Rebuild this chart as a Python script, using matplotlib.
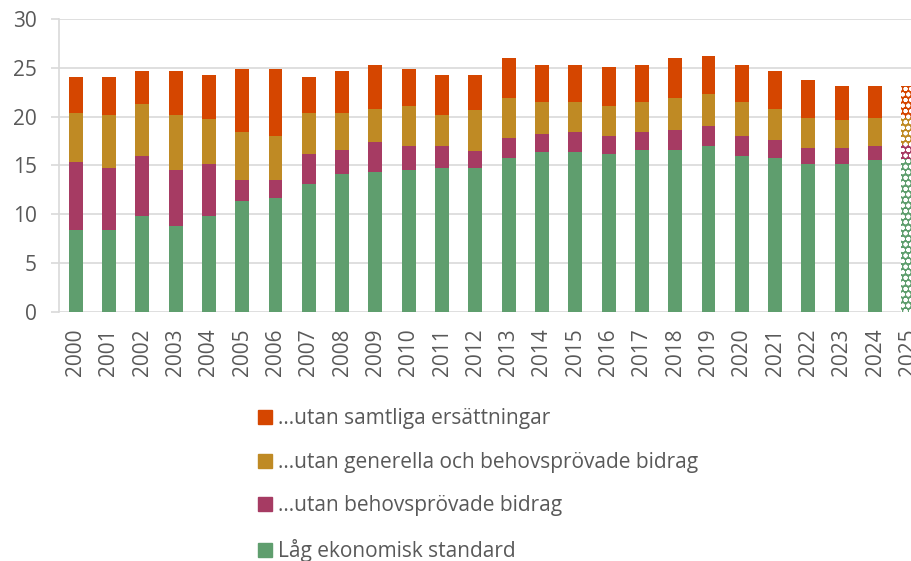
import numpy as np
import matplotlib
matplotlib.use("Agg")
import matplotlib.pyplot as plt
from matplotlib.patches import Patch

plt.rcParams['font.family'] = ['Open Sans', 'DejaVu Sans']
plt.rcParams['hatch.linewidth'] = 1.3

years = [str(y) for y in range(2000, 2026)]

# andel (%) med låg ekonomisk standard, nivåer som staplas på varandra
lag_ek_std = [8.4, 8.4, 9.8, 8.8, 9.8, 11.3, 11.7, 13.1, 14.1, 14.3, 14.5, 14.7, 14.7,
              15.8, 16.4, 16.4, 16.2, 16.6, 16.6, 17.0, 16.0, 15.8, 15.1, 15.1, 15.5, 15.7]
utan_behov = [15.3, 14.7, 16.0, 14.5, 15.1, 13.5, 13.5, 16.2, 16.6, 17.4, 17.0, 17.0, 16.5,
              17.8, 18.2, 18.4, 18.0, 18.4, 18.6, 19.0, 18.0, 17.6, 16.8, 16.8, 17.0, 17.1]
utan_gen_behov = [20.4, 20.2, 21.3, 20.2, 19.8, 18.4, 18.0, 20.4, 20.4, 20.8, 21.1, 20.2, 20.7,
                  21.9, 21.5, 21.5, 21.1, 21.5, 21.9, 22.3, 21.5, 20.8, 19.9, 19.6, 19.9, 19.9]
utan_samtliga = [24.1, 24.1, 24.7, 24.7, 24.3, 24.9, 24.9, 24.1, 24.7, 25.3, 24.9, 24.3, 24.3,
                 26.0, 25.3, 25.3, 25.1, 25.3, 26.0, 26.2, 25.3, 24.7, 23.7, 23.1, 23.1, 23.1]

labels = ['Låg ekonomisk standard', '...utan behovsprövade bidrag',
          '...utan generella och behovsprövade bidrag', '...utan samtliga ersättningar']
colors = ['#5f9e6e', '#a63b63', '#bf8a24', '#d54600']
grey = '#595959'
gridc = '#d9d9d9'

levels = [lag_ek_std, utan_behov, utan_gen_behov, utan_samtliga]

fig = plt.figure(figsize=(9.12, 5.61), dpi=100)
ax = fig.add_axes([59/912, 249.3/561, 866/912, 292.7/561])

x = np.arange(len(years))
prev = np.zeros(len(years))
for lev, col in zip(levels, colors):
    lev = np.array(lev)
    h = lev - prev
    # prognos 2025 med mönster
    ax.bar(x[:-1], h[:-1], bottom=prev[:-1], width=0.42, color=col, zorder=2)
    ax.bar(x[-1:], h[-1:], bottom=prev[-1:], width=0.42, facecolor=col,
           edgecolor='white', hatch='ooo', linewidth=0, zorder=2)
    prev = lev

ax.set_xlim(-0.5, len(years) - 0.5)
ax.set_ylim(0, 30)
ax.set_yticks(range(0, 31, 5))
ax.set_xticks(x)
ax.set_xticklabels(years, rotation=90)
ax.yaxis.grid(True, color=gridc, linewidth=1.2, zorder=0)
ax.set_axisbelow(True)
for s in ['top', 'right', 'bottom']:
    ax.spines[s].set_visible(False)
ax.spines['left'].set_color(gridc)
ax.spines['left'].set_linewidth(1.2)
ax.tick_params(axis='y', colors=gridc, labelcolor=grey, labelsize=15, length=6, width=1.2, pad=10)
ax.tick_params(axis='x', length=0, labelcolor=grey, labelsize=15, pad=12)

handles = [Patch(color=c) for c in colors]
fig.legend(handles[::-1], labels[::-1], loc='upper left',
           bbox_to_anchor=(248/912, 1 - 398/561), frameon=False, fontsize=15,
           handlelength=0.65, handleheight=0.65, handletextpad=0.3,
           labelspacing=1.08, borderpad=0, labelcolor=grey)

fig.savefig('out.png', dpi=100)
